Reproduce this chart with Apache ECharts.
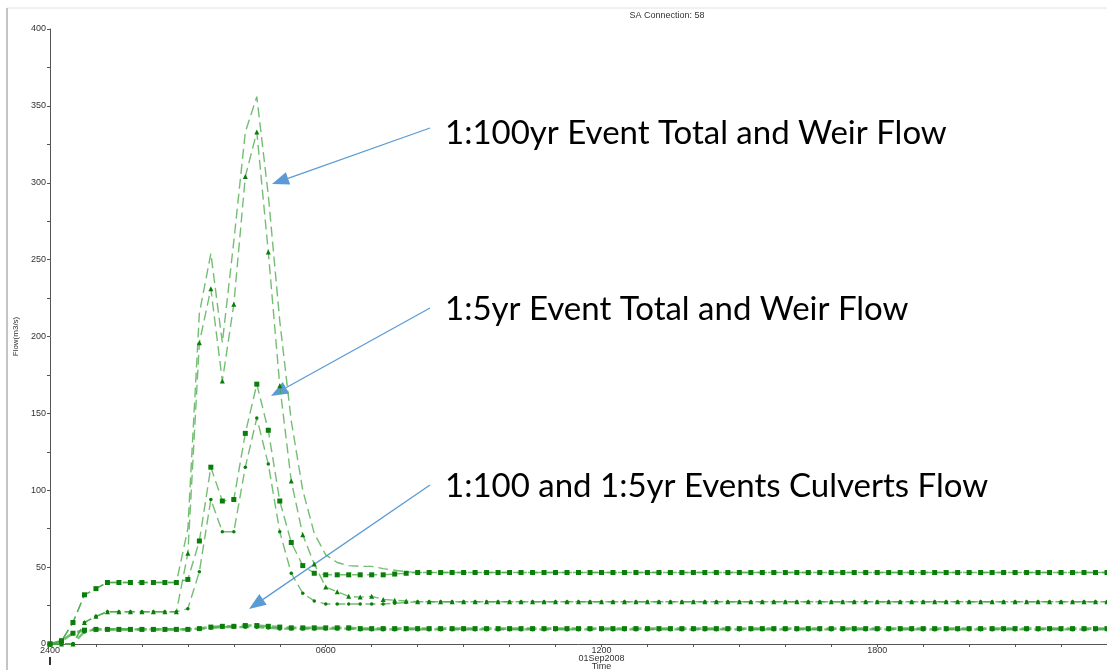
<!DOCTYPE html>
<html>
<head>
<meta charset="utf-8">
<script src="https://cdn.jsdelivr.net/npm/echarts@6/dist/echarts.min.js"></script>
<style>
  html, body { margin: 0; padding: 0; background: #fff; }
  #chart { width: 1107px; height: 670px; }
</style>
</head>
<body>
<div id="chart"></div>
<script>
// 15 minute timesteps, index 0 = 2400 (midnight) through 2300
const STEP_MIN = 15;
const N_STEPS = 93;
const timeLabels = [];
for (let i = 0; i < N_STEPS; i++) {
  const m = i * STEP_MIN;
  const hh = Math.floor(m / 60), mm = m % 60;
  timeLabels.push(i === 0 ? '2400' : String(hh).padStart(2, '0') + String(mm).padStart(2, '0'));
}

// Flow (m3/s), one value per timestep
const total100 = [
  0, 2, 14, 32, 36, 40, 40, 40, 40, 40, 40, 40,
  75, 215, 254, 196, 262, 333, 356, 292, 210, 145, 100, 72,
  58, 53, 51, 50.5, 50.5, 49, 48, 47, 46.5, 46.5, 46.5, 46.5,
  46.5, 46.5, 46.5, 46.5, 46.5, 46.5, 46.5, 46.5, 46.5, 46.5, 46.5, 46.5,
  46.5, 46.5, 46.5, 46.5, 46.5, 46.5, 46.5, 46.5, 46.5, 46.5, 46.5, 46.5,
  46.5, 46.5, 46.5, 46.5, 46.5, 46.5, 46.5, 46.5, 46.5, 46.5, 46.5, 46.5,
  46.5, 46.5, 46.5, 46.5, 46.5, 46.5, 46.5, 46.5, 46.5, 46.5, 46.5, 46.5,
  46.5, 46.5, 46.5, 46.5, 46.5, 46.5, 46.5, 46.5, 46.5
];
const weir100 = [
  0, 0, 0, 14, 18, 21, 21, 21, 21, 21, 21, 21,
  59, 196, 231, 171, 221, 304, 333, 255, 168, 106, 71, 52,
  37, 34, 31, 30.5, 31, 29, 28.5, 28, 27.5, 27.5, 27.5, 27.5,
  27.5, 27.5, 27.5, 27.5, 27.5, 27.5, 27.5, 27.5, 27.5, 27.5, 27.5, 27.5,
  27.5, 27.5, 27.5, 27.5, 27.5, 27.5, 27.5, 27.5, 27.5, 27.5, 27.5, 27.5,
  27.5, 27.5, 27.5, 27.5, 27.5, 27.5, 27.5, 27.5, 27.5, 27.5, 27.5, 27.5,
  27.5, 27.5, 27.5, 27.5, 27.5, 27.5, 27.5, 27.5, 27.5, 27.5, 27.5, 27.5,
  27.5, 27.5, 27.5, 27.5, 27.5, 27.5, 27.5, 27.5, 27.5
];
const total5 = [
  0, 2, 14, 32, 36, 40, 40, 40, 40, 40, 40, 40,
  42, 67, 115, 93, 94, 137, 169, 139, 93, 66, 51, 46,
  45, 45, 45, 45, 45, 45, 45.5, 46, 46.5, 46.5, 46.5, 46.5,
  46.5, 46.5, 46.5, 46.5, 46.5, 46.5, 46.5, 46.5, 46.5, 46.5, 46.5, 46.5,
  46.5, 46.5, 46.5, 46.5, 46.5, 46.5, 46.5, 46.5, 46.5, 46.5, 46.5, 46.5,
  46.5, 46.5, 46.5, 46.5, 46.5, 46.5, 46.5, 46.5, 46.5, 46.5, 46.5, 46.5,
  46.5, 46.5, 46.5, 46.5, 46.5, 46.5, 46.5, 46.5, 46.5, 46.5, 46.5, 46.5,
  46.5, 46.5, 46.5, 46.5, 46.5, 46.5, 46.5, 46.5, 46.5
];
const weir5 = [
  0, 0, 0, 14, 18, 21, 21, 21, 21, 21, 21, 21,
  23, 47, 94, 73, 73, 115, 147, 117, 73, 46, 33, 28,
  26, 26, 26, 26, 26, 26, 26.5, 27, 27.5, 27.5, 27.5, 27.5,
  27.5, 27.5, 27.5, 27.5, 27.5, 27.5, 27.5, 27.5, 27.5, 27.5, 27.5, 27.5,
  27.5, 27.5, 27.5, 27.5, 27.5, 27.5, 27.5, 27.5, 27.5, 27.5, 27.5, 27.5,
  27.5, 27.5, 27.5, 27.5, 27.5, 27.5, 27.5, 27.5, 27.5, 27.5, 27.5, 27.5,
  27.5, 27.5, 27.5, 27.5, 27.5, 27.5, 27.5, 27.5, 27.5, 27.5, 27.5, 27.5,
  27.5, 27.5, 27.5, 27.5, 27.5, 27.5, 27.5, 27.5, 27.5
];
const culvert100 = [
  0, 2, 7, 9, 9.5, 9.5, 9.5, 9.5, 9.5, 9.5, 9.5, 9.5,
  9.5, 10, 11, 11.5, 11.5, 12, 12, 11.5, 11, 10.5, 10.5, 10.5,
  10.5, 10.5, 10.5, 10, 10, 10, 10, 10, 10, 10, 10, 10,
  10, 10, 10, 10, 10, 10, 10, 10, 10, 10, 10, 10,
  10, 10, 10, 10, 10, 10, 10, 10, 10, 10, 10, 10,
  10, 10, 10, 10, 10, 10, 10, 10, 10, 10, 10, 10,
  10, 10, 10, 10, 10, 10, 10, 10, 10, 10, 10, 10,
  10, 10, 10, 10, 10, 10, 10, 10, 10
];
const culvert5 = [
  0, 0, 0, 8, 9.5, 9.5, 9.5, 9.5, 9.5, 9.5, 9.5, 9.5,
  9.5, 10, 10.5, 11, 11, 11, 11, 10.5, 10, 10, 10, 10,
  10, 10, 10, 9.5, 9.5, 9.5, 9.5, 9.5, 9.5, 9.5, 9.5, 9.5,
  9.5, 9.5, 9.5, 9.5, 9.5, 9.5, 9.5, 9.5, 9.5, 9.5, 9.5, 9.5,
  9.5, 9.5, 9.5, 9.5, 9.5, 9.5, 9.5, 9.5, 9.5, 9.5, 9.5, 9.5,
  9.5, 9.5, 9.5, 9.5, 9.5, 9.5, 9.5, 9.5, 9.5, 9.5, 9.5, 9.5,
  9.5, 9.5, 9.5, 9.5, 9.5, 9.5, 9.5, 9.5, 9.5, 9.5, 9.5, 9.5,
  9.5, 9.5, 9.5, 9.5, 9.5, 9.5, 9.5, 9.5, 9.5
];

const yTicks = [0, 400, 25];  // min, max, minor step
const LINE_GREEN = 'rgba(70, 168, 70, 0.75)';
const MARK_GREEN = '#0b7d0b';
const ARROW_BLUE = '#5b9bd5';
const AXIS_FONT = 'Liberation Sans';

const chart = echarts.init(document.getElementById('chart'));

function flowSeries(name, data, symbol, size, width) {
  return {
    name: name,
    type: 'line',
    data: data,
    symbol: symbol,
    symbolSize: size,
    showAllSymbol: true,
    itemStyle: { color: MARK_GREEN },
    lineStyle: { color: LINE_GREEN, width: width || 1.4, type: [10, 5] },
    emphasis: { disabled: true }
  };
}

// callout arrow: a line with a filled head at (x2, y2)
function arrow(x1, y1, x2, y2) {
  const ang = Math.atan2(y2 - y1, x2 - x1);
  const len = 17, half = 6.5;
  const bx = x2 - len * Math.cos(ang), by = y2 - len * Math.sin(ang);
  const px = -Math.sin(ang) * half, py = Math.cos(ang) * half;
  return [
    { type: 'line', shape: { x1: x1, y1: y1, x2: bx, y2: by }, style: { stroke: ARROW_BLUE, lineWidth: 1.3 }, silent: true },
    { type: 'polygon', shape: { points: [[x2, y2], [bx + px, by + py], [bx - px, by - py]] }, style: { fill: ARROW_BLUE }, silent: true }
  ];
}

function bigText(text, x, y) {
  return {
    type: 'text', silent: true,
    style: { text: text, x: x, y: y, font: '33px Lato', fill: '#000', align: 'left', verticalAlign: 'middle', textAlign: 'left', textVerticalAlign: 'middle' }
  };
}

const option = {
  animation: false,
  backgroundColor: '#fff',
  grid: { left: 50, right: 0, top: 29, bottom: 26, outerBoundsMode: 'none', containLabel: false },
  xAxis: {
    type: 'category',
    data: timeLabels,
    boundaryGap: false,
    axisLine: { lineStyle: { color: '#555', width: 1 } },
    axisTick: { interval: (i) => i % 4 === 0, length: 3, lineStyle: { color: '#555' } },
    axisLabel: {
      interval: (i) => i % 24 === 0,
      fontSize: 9, fontFamily: AXIS_FONT, color: '#333', margin: 3, lineHeight: 8,
      formatter: (v) => v === '1200' ? '1200\n01Sep2008\nTime' : v
    },
    splitLine: { show: false }
  },
  yAxis: {
    type: 'value',
    min: yTicks[0], max: yTicks[1], interval: yTicks[2],
    name: 'Flow(m3/s)',
    nameLocation: 'middle',
    nameGap: 28,
    nameTextStyle: { fontSize: 8, fontFamily: AXIS_FONT, color: '#333' },
    axisLine: { show: true, lineStyle: { color: '#555', width: 1 } },
    axisTick: { show: true, length: 3, lineStyle: { color: '#555' } },
    axisLabel: {
      fontSize: 9, fontFamily: AXIS_FONT, color: '#333', margin: 4,
      formatter: (v) => v % 50 === 0 ? String(v) : ''
    },
    splitLine: { show: false }
  },
  series: [
    flowSeries('1:100yr Total', total100, 'none', 0),
    flowSeries('1:100yr Weir', weir100, 'triangle', 5),
    flowSeries('1:5yr Total', total5, 'rect', 5),
    flowSeries('1:5yr Weir', weir5, 'circle', 3.5),
    flowSeries('1:100yr Culvert', culvert100, 'rect', 5, 2.6),
    flowSeries('1:5yr Culvert', culvert5, 'circle', 4, 2.2)
  ],
  graphic: [
    { type: 'line', shape: { x1: 7, y1: 8, x2: 1107, y2: 8 }, style: { stroke: '#e2e2e2', lineWidth: 1 }, silent: true },
    { type: 'line', shape: { x1: 7, y1: 8, x2: 7, y2: 670 }, style: { stroke: '#8a8a8a', lineWidth: 1 }, silent: true },
    { type: 'line', shape: { x1: 50, y1: 657, x2: 50, y2: 665 }, style: { stroke: '#333', lineWidth: 2 }, silent: true },
    {
      type: 'text', silent: true,
      style: { text: 'SA Connection: 58', x: 667, y: 16, font: '9px Liberation Sans', fill: '#333', align: 'center', verticalAlign: 'middle', textAlign: 'center', textVerticalAlign: 'middle' }
    },
    bigText('1:100yr Event Total and Weir Flow', 445, 133),
    bigText('1:5yr Event Total and Weir Flow', 445, 309),
    bigText('1:100 and 1:5yr Events Culverts Flow', 445, 486),
    ...arrow(430, 128, 272, 184),
    ...arrow(430, 308, 271, 396),
    ...arrow(430, 485, 249, 609)
  ]
};

chart.setOption(option);
</script>
</body>
</html>
